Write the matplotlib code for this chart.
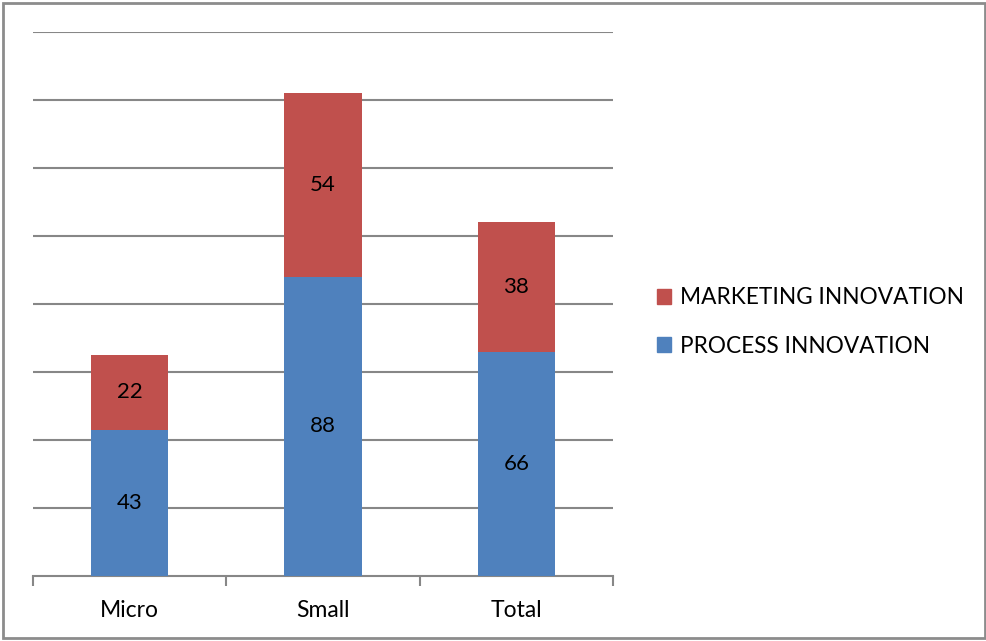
import matplotlib
matplotlib.use("Agg")
import matplotlib.pyplot as plt
from matplotlib.patches import Rectangle, Patch
import numpy as np

plt.rcParams['font.family'] = ['Lato', 'DejaVu Sans']

categories = ["Micro", "Small", "Total"]
process = [43, 88, 66]
marketing = [22, 54, 38]

blue = "#4F81BD"
red = "#C0504D"
grid_color = "#878787"

W, H = 987, 641
fig = plt.figure(figsize=(W / 100, H / 100), dpi=100)
ax = fig.add_axes([33 / W, 65 / H, 580 / W, 544 / H])

x = np.arange(len(categories))
width = 0.4
ax.bar(x, process, width, color=blue, zorder=3)
ax.bar(x, marketing, width, bottom=process, color=red, zorder=3)

for xi, p, m in zip(x, process, marketing):
    ax.text(xi, p / 2, str(p), ha="center", va="center", fontsize=16, color="black", zorder=4)
    ax.text(xi, p + m / 2, str(m), ha="center", va="center", fontsize=16, color="black", zorder=4)

ax.set_xlim(-0.5, len(categories) - 0.5)
ax.set_ylim(0, 160)
ax.set_yticks(np.arange(20, 161, 20))
ax.yaxis.grid(True, color=grid_color, linewidth=1.5, zorder=0)
ax.tick_params(axis="y", left=False, labelleft=False)

ax.set_xticks(x)
ax.set_xticklabels(categories, fontsize=16.5)
ax.set_xticks(np.arange(-0.5, len(categories), 1.0), minor=True)
ax.tick_params(axis="x", which="major", length=0, pad=17)
ax.tick_params(axis="x", which="minor", length=7, width=1.5, color=grid_color, direction="out")

for s in ["top", "right", "left"]:
    ax.spines[s].set_visible(False)
ax.spines["bottom"].set_color(grid_color)
ax.spines["bottom"].set_linewidth(1.5)

handles = [Patch(color=red, label="MARKETING INNOVATION"),
           Patch(color=blue, label="PROCESS INNOVATION")]
fig.legend(handles=handles, loc="center left", bbox_to_anchor=(637 / W, 1 - 322 / H),
           frameon=False, fontsize=16.3, handlelength=0.6, handleheight=0.6,
           handletextpad=0.4, labelspacing=1.2)

fig.patches.append(Rectangle((3 / W, 3 / H), 982 / W, 635 / H, transform=fig.transFigure,
                             fill=False, edgecolor="#8c8c8c", linewidth=2))

fig.savefig("out.png", dpi=100)
